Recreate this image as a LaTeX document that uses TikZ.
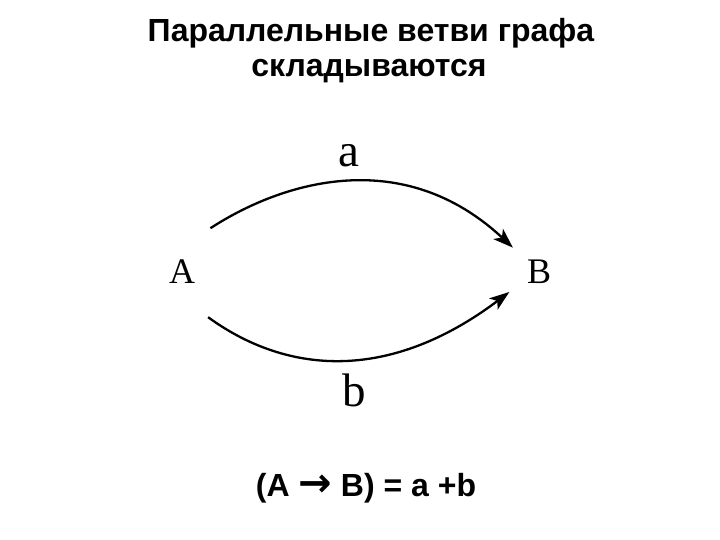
\documentclass[tikz,border=0pt]{standalone}
\usepackage{fontspec}
\setmainfont{Liberation Serif}
\newfontfamily\sansf{Liberation Sans}
\newfontfamily\arrowf{DejaVu Sans}
\usetikzlibrary{
    arrows.meta,
    calc,
    positioning
}
\tikzset{vtx/.style={circle, inner sep=0pt, font=\fontsize{36}{40}\selectfont}}
\tikzset{lbl/.style={inner sep=0pt, font=\fontsize{47}{50}\selectfont}}
\tikzset{branch/.style={line width=2.3pt, -{Stealth[length=20pt, width=14pt, inset=5pt]}}}
\tikzset{ttl/.style={anchor=base, inner sep=0pt, font=\sansf\bfseries\fontsize{32}{35}\selectfont}}

\begin{document}
\begin{tikzpicture}[x=1pt, y=1pt]
                        \useasboundingbox (0, 0) rectangle (720, 540);
                        \node[ttl] (title1) at (371, 498) {Параллельные ветви графа};
                        \node[ttl] (title2) at (369, 463) {складываются};
                        \node[vtx, minimum size=104pt] (A) at (182, 268) {A};
                        \node[vtx, minimum size=71pt] (B) at (539, 268) {B};
                        \draw[branch] (A.57) .. controls +(33:87) and +(137:150) .. (B.137);
                        \draw[branch] (A.-60) .. controls +(-36:100) and +(-143:148) .. (B.214);
                        \node[lbl] (a) at (349, 384) {a};
                        \node[lbl] (b) at (354, 150) {b};
                        \node[ttl] (sum) at (366, 43) {(A {\arrowf\fontsize{40}{40}\selectfont →} B) = a +b};
                    \end{tikzpicture}
\end{document}
